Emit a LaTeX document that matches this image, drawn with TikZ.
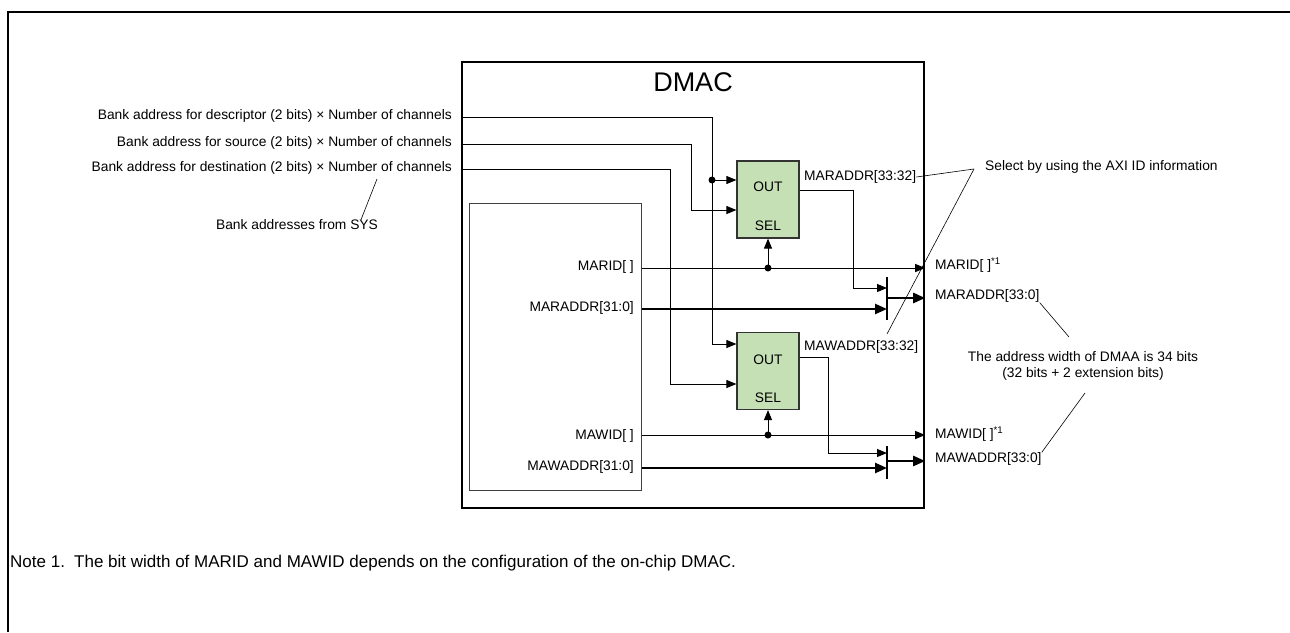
\documentclass[tikz,border=0pt]{standalone}
\usepackage{fontspec}
\setmainfont{Liberation Sans}
\usetikzlibrary{arrows.meta,positioning}
\definecolor{muxgreen}{HTML}{C5E0B4}

\begin{document}
\begin{tikzpicture}[x=1pt,y=-1pt,
lbl/.style={inner sep=0pt, font=\fontsize{13.8}{16}\selectfont},
notefont/.style={inner sep=0pt, anchor=base west, font=\fontsize{17}{20}\selectfont},
box/.style={draw=black, line width=2.4pt, minimum width=462pt, minimum height=446pt},
core/.style={draw=black!75, line width=1pt, minimum width=172pt, minimum height=287pt},
mux/.style={draw=black!80, fill=muxgreen, line width=1.2pt, minimum width=62pt, minimum height=77pt},
sig/.style={line width=1pt, -{Triangle[length=10pt,width=8pt]}},
bus/.style={line width=2.4pt, -{Triangle[length=12pt,width=10pt]}},
bar/.style={line width=2.4pt},
call/.style={line width=0.6pt},
dot/.style={circle, fill=black, inner sep=0pt, minimum size=7pt}
]
\useasboundingbox (0,0) rectangle (1290,632);
\draw[line width=2pt] (1290,12) -- (8,12) -- (8,632);

%Nodes
\node[box]  (dmac)  at (693,285)   {};
\node[inner sep=0pt, font=\fontsize{27}{30}\selectfont] (title) at (693,82) {DMAC};
\node[core] (core)  at (555,346.5) {};
\node[mux]  (muxr)  at (768,199.5) {};
\node[mux]  (muxw)  at (768,371)   {};
\node[lbl]  (outr)  at (768,187)   {OUT};
\node[lbl]  (selr)  at (768,226)   {SEL};
\node[lbl]  (outw)  at (768,360)   {OUT};
\node[lbl]  (selw)  at (768,398)   {SEL};

\node[lbl, anchor=east] (bdesc) at (452,116) {Bank address for descriptor (2 bits) × Number of channels};
\node[lbl, anchor=east] (bsrc)  at (452,143) {Bank address for source (2 bits) × Number of channels};
\node[lbl, anchor=east] (bdst)  at (452,168) {Bank address for destination (2 bits) × Number of channels};
\node[lbl] (bsys) at (297,225) {Bank addresses from SYS};

\node[lbl, anchor=east] (marid)  at (634,267) {MARID[ ]};
\node[lbl, anchor=east] (maraddr) at (634,308) {MARADDR[31:0]};
\node[lbl, anchor=east] (mawid)  at (634,436) {MAWID[ ]};
\node[lbl, anchor=east] (mawaddr) at (634,467) {MAWADDR[31:0]};
\node[lbl, anchor=west] (marhi) at (804,177) {MARADDR[33:32]};
\node[lbl, anchor=west] (mawhi) at (804,347) {MAWADDR[33:32]};

\node[lbl, anchor=west] (maridout)   at (935,265) {MARID[ ]\textsuperscript{*1}};
\node[lbl, anchor=west] (maraddrout) at (935,296) {MARADDR[33:0]};
\node[lbl, anchor=west] (mawidout)   at (935,434) {MAWID[ ]\textsuperscript{*1}};
\node[lbl, anchor=west] (mawaddrout) at (935,459) {MAWADDR[33:0]};

\node[lbl, anchor=west] (axi) at (985,167) {Select by using the AXI ID information};
\node[lbl, align=center] (width) at (1083,366) {The address width of DMAA is 34 bits\\(32 bits + 2 extension bits)};

\node[notefont] (note)    at (10,567) {Note 1.};
\node[notefont] (notetxt) at (74,567) {The bit width of MARID and MAWID depends on the configuration of the on-chip DMAC.};

%Coordinates
\coordinate (dj) at (712,180);
\coordinate (rj) at (768,268);
\coordinate (wj) at (768,435);
\coordinate (bar1) at (887,298);
\coordinate (bar2) at (887,461);
\coordinate (apex) at (974,169);

%Lines
\draw[sig] (dmac.west |- 0,117) -| (712,344) -- (muxw.west |- 0,344);
\draw[sig] (dj) -- (muxr.west |- dj);
\draw[sig] (dmac.west |- 0,144) -| (691,210) -- (muxr.west |- 0,210);
\draw[sig] (dmac.west |- 0,169) -| (670,384) -- (muxw.west |- 0,384);

\draw[sig] (core.east |- rj) -- (dmac.east |- rj);
\draw[sig] (rj) -- (muxr.south);
\draw[sig] (core.east |- wj) -- (dmac.east |- wj);
\draw[sig] (wj) -- (muxw.south);

\draw[sig] (muxr.east |- 0,190) -| (853,288) -- (bar1 |- 0,288);
\draw[sig] (muxw.east |- 0,357) -| (828,453) -- (bar2 |- 0,453);
\draw[bus] (core.east |- 0,309) -- (bar1 |- 0,309);
\draw[bus] (core.east |- 0,468) -- (bar2 |- 0,468);
\draw[bar] (887,277) -- (887,320);
\draw[bar] (887,446) -- (887,479);
\draw[bus] (bar1) -- (dmac.east |- bar1);
\draw[bus] (bar2) -- (dmac.east |- bar2);

\node[dot] at (dj) {};
\node[dot] at (rj) {};
\node[dot] at (wj) {};

%Callouts
\draw[call] (377,179) -- (bsys.north -| 361,0);
\draw[call] (apex) -- (marhi.east);
\draw[call] (apex) -- (887,334);
\draw[call] (maraddrout.south east) -- (1069,337);
\draw[call] (1085,393) -- (mawaddrout.north east);
\end{tikzpicture}
\end{document}
